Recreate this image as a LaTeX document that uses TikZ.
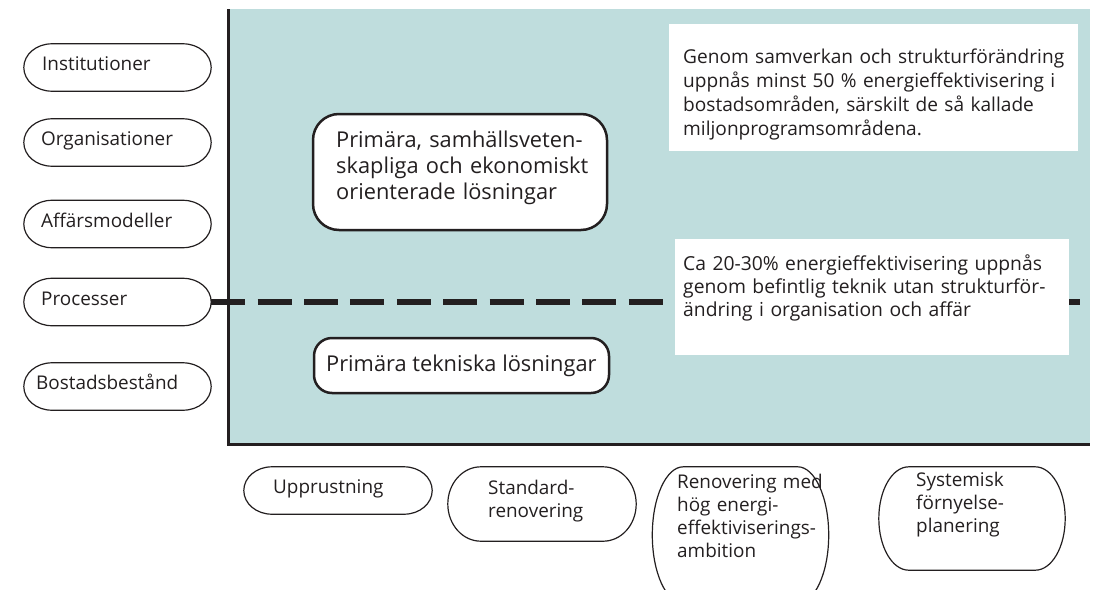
\documentclass[tikz,border=0pt]{standalone}
\usepackage{fontspec}
\setmainfont{Open Sans}
\usetikzlibrary{calc}
\definecolor{bgteal}{RGB}{191,221,221}
\definecolor{ink}{RGB}{35,31,32}
\newcommand\capsuleout[2]{%
  \draw[capline] let \p1=(#1.north west), \p2=(#1.south east), \n1={0.5*(\y1-\y2)} in
   (\x1+#2pt,\y1) -- (\x2-#2pt,\y1)
   arc[start angle=90,end angle=-90,x radius=#2pt,y radius=\n1]
   -- (\x1+#2pt,\y2)
   arc[start angle=270,end angle=90,x radius=#2pt,y radius=\n1] -- cycle;}
\begin{document}
\begin{tikzpicture}[x=1pt,y=1pt,
  slot/.style={rectangle,draw=none,inner sep=0pt},
  capline/.style={draw=ink,line width=1.2pt},
  lbl/.style={anchor=base west,inner sep=0pt,text=ink,font=\fontsize{18.9}{23}\selectfont,align=left},
  biglbl/.style={anchor=base west,inner sep=0pt,text=ink,font=\fontsize{21.8}{26.3}\selectfont,align=left},
  infolbl/.style={anchor=base west,inner sep=0pt,text=ink,align=left},
  whitebox/.style={rectangle,fill=white,draw=none,inner sep=0pt},
  solbox/.style={rectangle,fill=white,draw=ink,line width=2.5pt,inner sep=0pt},
  axisline/.style={draw=ink,line width=3pt,line join=miter},
  divider/.style={draw=ink,line width=5.5pt,dash pattern=on 34pt off 12.4pt}
]
\useasboundingbox (0,0) rectangle (1094,-589);
\clip (0,0) rectangle (1094,-589);
% background field
\fill[bgteal] (228,-9) rectangle (1090,-444);
\coordinate (ytop) at (228,-9);
\coordinate (orig) at (228,-444);
\coordinate (xend) at (1090,-444);
\draw[axisline] (ytop) -- (orig) -- (xend);

% left capsules
\node[slot,minimum width=187pt,minimum height=47pt] (inst) at (117.5,-67.5) {};
\node[slot,minimum width=187pt,minimum height=47pt] (org)  at (117.5,-142.5) {};
\node[slot,minimum width=187pt,minimum height=47pt] (aff)  at (117.5,-224) {};
\node[slot,minimum width=187pt,minimum height=47pt] (proc) at (117.5,-302) {};
\node[slot,minimum width=187pt,minimum height=47pt] (bost) at (117.5,-386.5) {};
\capsuleout{inst}{28}
\capsuleout{org}{28}
\capsuleout{aff}{28}
\capsuleout{proc}{28}
\capsuleout{bost}{28}
\node[lbl] (instT) at (42,-70.5) {Institutioner};
\node[lbl] (orgT)  at (41,-145.5) {Organisationer};
\node[lbl] (affT)  at (41,-227) {Affärsmodeller};
\node[lbl] (procT) at (41,-305) {Processer};
\node[lbl] (bostT) at (36,-389.5) {Bostadsbestånd};

% dashed divider
\coordinate (dashend) at (1083,-302);
\draw[divider] (proc.east) -- (dashend);

% white info boxes
\node[whitebox,minimum width=409pt,minimum height=127pt] (wb1) at (873.5,-87.5) {};
\node[whitebox,minimum width=394pt,minimum height=116pt] (wb2) at (872,-297) {};
\node[infolbl,text width=395pt,font=\fontsize{19.1}{24}\selectfont] (wb1T) at (683,-63.3)
  {Genom samverkan och strukturförändring\\uppnås minst 50 \% energieffektivisering i\\bostadsområden, särskilt de så kallade\\miljonprogramsområdena.};
\node[infolbl,text width=385pt,font=\fontsize{19.3}{23.3}\selectfont] (wb2T) at (683,-270)
  {Ca 20-30\% energieffektivisering uppnås\\genom befintlig teknik utan strukturför-\\ändring i organisation och affär};

% solution boxes
\node[solbox,rounded corners=26pt,minimum width=294pt,minimum height=116pt] (soc) at (460,-172) {};
\node[biglbl,text width=270pt] (socT) at (336,-147.3)
  {Primära, samhällsveten-\\skapliga och ekonomiskt\\orienterade lösningar};
\node[solbox,rounded corners=18pt,minimum width=295pt,minimum height=55pt] (tech) at (461.5,-365.5) {};
\node[biglbl] (techT) at (326,-371.7) {Primära tekniska lösningar};

% bottom capsules
\node[slot,minimum width=188pt,minimum height=47pt] (upp) at (338,-490.5) {};
\node[slot,minimum width=188pt,minimum height=74pt] (std) at (542,-504) {};
\node[slot,minimum width=176pt,minimum height=136pt] (ren) at (740.5,-535) {};
\node[slot,minimum width=186pt,minimum height=103pt] (sys) at (972,-518.5) {};
\capsuleout{upp}{28}
\capsuleout{std}{33}
\capsuleout{ren}{31}
\capsuleout{sys}{30}
\node[lbl] (uppT) at (273,-493.3) {Upprustning};
\node[lbl,text width=150pt] (stdT) at (488,-494) {Standard-\\renovering};
\node[lbl,text width=160pt] (renT) at (677,-488.3) {Renovering med\\hög energi-\\effektiviserings-\\ambition};
\node[lbl,text width=150pt] (sysT) at (916,-486.7) {Systemisk\\förnyelse-\\planering};
\end{tikzpicture}
\end{document}
